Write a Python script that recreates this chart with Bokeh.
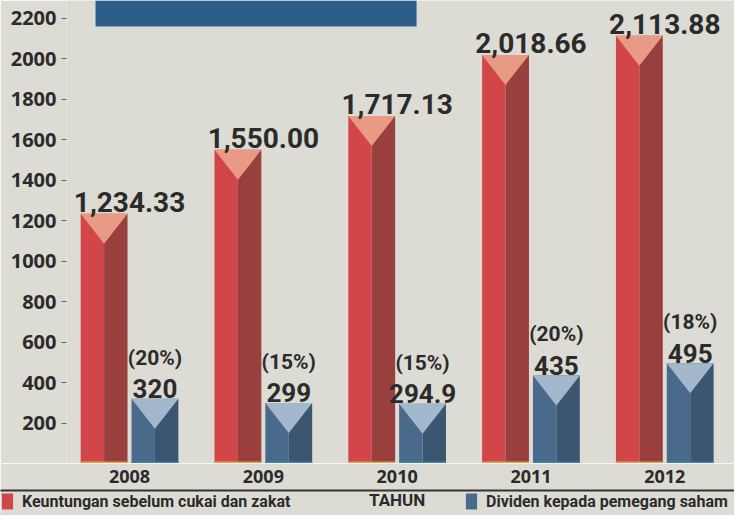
from bokeh.plotting import figure
from bokeh.models import FixedTicker, Range1d, ColumnDataSource, BoxAnnotation, Legend, LegendItem
from bokeh.layouts import column
from bokeh.embed import file_html
from bokeh.resources import INLINE
from bokeh.core.properties import value

# ---- data ----
years = ["2008", "2009", "2010", "2011", "2012"]
profit = [1234.33, 1550.00, 1717.13, 2018.66, 2113.88]
profit_labels = ["1,234.33", "1,550.00", "1,717.13", "2,018.66", "2,113.88"]
dividend = [320, 299, 294.9, 435, 495]
dividend_labels = ["320", "299", "294.9", "435", "495"]
dividend_pct = ["(20%)", "(15%)", "(15%)", "(20%)", "(18%)"]
y_ticks = [200, 400, 600, 800, 1000, 1200, 1400, 1600, 1800, 2000, 2200]
legend_profit = "Keuntungan sebelum cukai dan zakat"
legend_div = "Dividen kepada pemegang saham"
x_title = "TAHUN"

# ---- styling ----
BG = "#dcdcd5"
RED_L, RED_R, RED_T = "#d2464a", "#99403f", "#e99a84"
BLU_L, BLU_R, BLU_T = "#4a6a8c", "#3a5670", "#a3b8cc"
BASE = "#e0a348"
TXT = "#2b2b2b"
ROBOTO = value("Roboto")

W = 734
MAIN_H, STRIP_H = 463, 52
STRIP_TOP = 27
LEFT = 66
Y_END = 2288
X0, X1 = -0.471, 4.521

idx = list(range(len(years)))
OFF, HW = 0.19, 0.175
PX_PER_UNIT = MAIN_H / float(Y_END)
TRI_H = 30 / PX_PER_UNIT
BASE_H = 2 / PX_PER_UNIT

def bar_sources(vals, offset):
    c = [i + offset for i in idx]
    left = ColumnDataSource(dict(x=[v - HW / 2 for v in c], top=vals))
    right = ColumnDataSource(dict(x=[v + HW / 2 for v in c], top=vals))
    xs = [[v - HW, v + HW, v] for v in c]
    ys = [[t, t, t - min(TRI_H, 0.75 * t)] for t in vals]
    tri = ColumnDataSource(dict(xs=xs, ys=ys))
    return c, left, right, tri

p = figure(width=W, height=MAIN_H, x_range=Range1d(X0, X1), y_range=Range1d(0, Y_END),
           output_backend="svg", toolbar_location=None, x_axis_location=None,
           min_border_left=LEFT, min_border_right=0, min_border_top=0, min_border_bottom=0,
           background_fill_color=BG, border_fill_color=BG, outline_line_color=None)
p.frame_align = False
p.grid.visible = False

# decorative title banner (top-left)
p.add_layout(BoxAnnotation(left=-0.254, right=2.145, bottom=2159, fill_color="#2d5e89",
                           fill_alpha=1, line_color=None, level="underlay"))

rc, rl, rr, rt = bar_sources(profit, -OFF)
p.vbar(x="x", top="top", width=HW, bottom=0, source=rl, fill_color=RED_L, line_color=None)
p.vbar(x="x", top="top", width=HW, bottom=0, source=rr, fill_color=RED_R, line_color=None)
p.patches(xs="xs", ys="ys", source=rt, fill_color=RED_T, line_color=None)
p.vbar(x=rc, top=BASE_H, width=2 * HW, bottom=0, fill_color=BASE, line_color=None)

bc, bl, br, bt = bar_sources(dividend, OFF)
p.vbar(x="x", top="top", width=HW, bottom=0, source=bl, fill_color=BLU_L, line_color=None)
p.vbar(x="x", top="top", width=HW, bottom=0, source=br, fill_color=BLU_R, line_color=None)
p.patches(xs="xs", ys="ys", source=bt, fill_color=BLU_T, line_color=None)
p.vbar(x=bc, top=BASE_H, width=2 * HW, bottom=0, fill_color="#3f86a6", line_color=None)

# value labels
p.text(x=idx, y=profit, text=profit_labels, text_align="center", text_baseline="alphabetic",
       y_offset=-12, text_font=ROBOTO, text_font_style="bold", text_font_size="28px", text_color=TXT)
p.text(x=bc, y=dividend, text=dividend_labels, text_align="center", text_baseline="alphabetic",
       y_offset=-10, text_font=ROBOTO, text_font_style="bold", text_font_size="26px", text_color=TXT)
p.text(x=bc, y=dividend, text=dividend_pct, text_align="center", text_baseline="alphabetic",
       y_offset=-41, text_font=ROBOTO, text_font_style="bold", text_font_size="21px", text_color=TXT)

ya = p.yaxis[0]
ya.ticker = FixedTicker(ticks=y_ticks)
ya.axis_line_color = None
ya.major_tick_in = 0
ya.major_tick_out = 5
ya.major_tick_line_color = "#666666"
ya.minor_tick_line_color = None
ya.major_label_standoff = 5
ya.major_label_text_font = "Open Sans"
ya.major_label_text_font_style = "bold"
ya.major_label_text_font_size = "20px"
ya.major_label_text_color = TXT

# ---- bottom strip: year axis, rule, legend (frame spans full width) ----
ppu = (W - LEFT) / (X1 - X0)
s = figure(width=W, height=STRIP_H, x_range=Range1d(X0 - LEFT / ppu, X1),
           y_range=Range1d(0, STRIP_H - STRIP_TOP),
           output_backend="svg", toolbar_location=None, x_axis_location="above", y_axis_location=None,
           min_border_left=0, min_border_right=0, min_border_top=STRIP_TOP, min_border_bottom=0,
           background_fill_color=BG, border_fill_color=BG, outline_line_color=None)
s.frame_align = False
s.grid.visible = False
xa = s.xaxis[0]
xa.ticker = FixedTicker(ticks=idx)
xa.major_label_overrides = {i: y for i, y in zip(idx, years)}
xa.axis_line_color = "#333333"
xa.axis_line_width = 2
xa.major_tick_line_color = None
xa.minor_tick_line_color = None
xa.major_label_standoff = 2
xa.major_label_text_font = "Open Sans"
xa.major_label_text_font_style = "bold"
xa.major_label_text_font_size = "18px"
xa.major_label_text_color = TXT

s.text(x=[idx[len(idx) // 2]], y=[16], text=[x_title], text_align="center", text_baseline="middle",
       text_font=ROBOTO, text_font_style="bold", text_font_size="17px", text_color=TXT)

r1 = s.vbar(x=[-50], top=[1], width=0.1, fill_color=RED_L, line_color=None)
r2 = s.vbar(x=[-50], top=[1], width=0.1, fill_color=BLU_L, line_color=None)
leg = Legend(items=[LegendItem(label=legend_profit, renderers=[r1]),
                    LegendItem(label=legend_div, renderers=[r2])],
             orientation="horizontal", location=(0, 4), padding=0, margin=0,
             spacing=0, glyph_width=14, glyph_height=20, label_standoff=8, label_width=442,
             label_text_font="Roboto", label_text_font_style="bold",
             label_text_font_size="16px", label_text_color=TXT,
             background_fill_alpha=0, border_line_color=None)
s.add_layout(leg, "center")

layout = column(p, s, spacing=0)
open("out.html", "w").write(file_html(layout, INLINE))
